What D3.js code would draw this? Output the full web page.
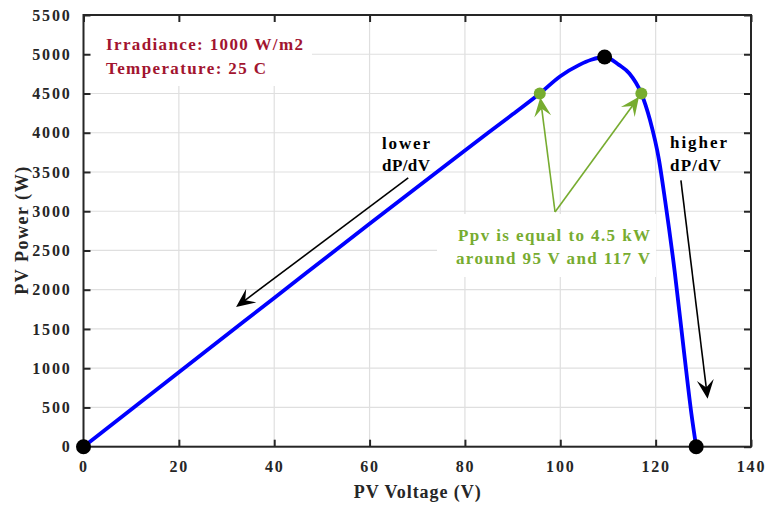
<!DOCTYPE html>
<html>
<head>
<meta charset="utf-8">
<script src="https://cdn.jsdelivr.net/npm/d3@7"></script>
<style>
  body { margin: 0; background: #fff; }
  text { font-family: "Liberation Serif", "Times New Roman", serif; font-weight: bold; }
</style>
</head>
<body>
<script>
// PV curve
var voltage = [0, 20, 40, 60, 80, 90, 95.7, 100, 104, 106.5, 109.3, 112.3, 114.5, 117.0, 118.8, 120.7, 122, 124, 126, 127.5, 128.5];
var power   = [0, 950, 1895, 2840, 3775, 4235, 4500, 4720, 4865, 4930, 4965, 4865, 4755, 4500, 4165, 3655, 3130, 2230, 1180, 420, 0];

var blackPoints = [[0, 0], [109.3, 4965], [128.5, 0]];
var greenPoints = [[95.7, 4500], [117.0, 4500]];

var xTicks = [0, 20, 40, 60, 80, 100, 120, 140];
var yTicks = d3.range(0, 5501, 500);

var width = 770, height = 506;
var svg = d3.select("body").append("svg").attr("width", width).attr("height", height);

var x = d3.scaleLinear().domain([0, 140]).range([83.5, 751]);
var y = d3.scaleLinear().domain([0, 5500]).range([446.7, 15]);

var dark = "#262626";
var green = "#77ac30";
var red = "#a2142f";

// grid
svg.append("g").selectAll("line").data(xTicks).enter().append("line")
    .attr("x1", function(d) { return x(d); }).attr("x2", function(d) { return x(d); })
    .attr("y1", y(0)).attr("y2", y(5500))
    .attr("stroke", "#dfdfdf").attr("stroke-width", 1.2);
svg.append("g").selectAll("line").data(yTicks).enter().append("line")
    .attr("y1", function(d) { return y(d); }).attr("y2", function(d) { return y(d); })
    .attr("x1", x(0)).attr("x2", x(140))
    .attr("stroke", "#dfdfdf").attr("stroke-width", 1.2);

// white boxes behind the annotations
svg.append("rect").attr("x", 85).attr("y", 17).attr("width", 227).attr("height", 69).attr("fill", "#fff");
svg.append("rect").attr("x", 437).attr("y", 214).attr("width", 219).attr("height", 63).attr("fill", "#fff");

// axes with inward ticks on all sides
var tick = 7;
var axisBottom = d3.axisBottom(x).tickValues(xTicks).tickSize(-tick).tickPadding(14).tickFormat(d3.format("d"));
var axisLeft = d3.axisLeft(y).tickValues(yTicks).tickSize(-tick).tickPadding(12).tickFormat(d3.format("d"));
var axisTop = d3.axisTop(x).tickValues(xTicks).tickSize(-tick).tickFormat("");
var axisRight = d3.axisRight(y).tickValues(yTicks).tickSize(-tick).tickFormat("");

function styleAxis(g) {
    g.select(".domain").attr("stroke", dark).attr("stroke-width", 2);
    g.selectAll(".tick line").attr("stroke", dark).attr("stroke-width", 2);
    g.selectAll(".tick text").attr("fill", dark)
        .style("font-family", "'Liberation Serif', serif").style("font-weight", "bold")
        .style("font-size", "16px").style("letter-spacing", "1.8px");
}
svg.append("g").attr("transform", "translate(0," + y(0) + ")").call(axisBottom).call(styleAxis);
svg.append("g").attr("transform", "translate(" + x(0) + ",0)").call(axisLeft).call(styleAxis);
svg.append("g").attr("transform", "translate(0," + y(5500) + ")").call(axisTop).call(styleAxis);
svg.append("g").attr("transform", "translate(" + x(140) + ",0)").call(axisRight).call(styleAxis);
svg.selectAll(".domain").attr("d", null);
svg.append("rect").attr("x", x(0)).attr("y", y(5500))
    .attr("width", x(140) - x(0)).attr("height", y(0) - y(5500))
    .attr("fill", "none").attr("stroke", dark).attr("stroke-width", 2);

// axis labels
svg.append("text").attr("x", (x(0) + x(140)) / 2).attr("y", 498)
    .attr("text-anchor", "middle").attr("fill", dark).style("font-size", "18px")
    .attr("textLength", 127).attr("lengthAdjust", "spacing")
    .text("PV Voltage (V)");
svg.append("text").attr("transform", "translate(28," + (y(0) + y(5500)) / 2 + ") rotate(-90)")
    .attr("text-anchor", "middle").attr("fill", dark).style("font-size", "18px")
    .attr("textLength", 128).attr("lengthAdjust", "spacing")
    .text("PV Power (W)");

// curve
var line = d3.line()
    .x(function(d, i) { return x(voltage[i]); })
    .y(function(d) { return y(d); })
    .curve(d3.curveMonotoneX);
svg.append("path").datum(power).attr("d", line)
    .attr("fill", "none").attr("stroke", "#0000ff").attr("stroke-width", 3.8);

// arrows
function arrow(x1, y1, x2, y2, color, len, wid, gap) {
    var ang = Math.atan2(y2 - y1, x2 - x1);
    var tx = x2 - gap * Math.cos(ang), ty = y2 - gap * Math.sin(ang);
    var g = svg.append("g");
    g.append("line").attr("x1", x1).attr("y1", y1)
        .attr("x2", tx - len * 0.5 * Math.cos(ang)).attr("y2", ty - len * 0.5 * Math.sin(ang))
        .attr("stroke", color).attr("stroke-width", 1.6);
    var head = [[0, 0], [-len, wid / 2], [-len * 0.6, 0], [-len, -wid / 2]];
    g.append("path")
        .attr("d", "M" + head.map(function(p) { return p.join(","); }).join("L") + "Z")
        .attr("transform", "translate(" + tx + "," + ty + ") rotate(" + ang * 180 / Math.PI + ")")
        .attr("fill", color);
}
arrow(x(68.1), y(3424), x(32.0), y(1780), "#000", 19, 17, 0);
arrow(x(125.3), y(3392), x(130.9), y(610), "#000", 19, 17, 0);
arrow(x(98.9), y(2990), x(greenPoints[0][0]), y(greenPoints[0][1]), green, 19, 17, 4);
arrow(x(98.9), y(2990), x(greenPoints[1][0]), y(greenPoints[1][1]), green, 19, 17, 4);

// markers
svg.append("g").selectAll("circle").data(blackPoints).enter().append("circle")
    .attr("cx", function(d) { return x(d[0]); }).attr("cy", function(d) { return y(d[1]); })
    .attr("r", 7.5).attr("fill", "#000");
svg.append("g").selectAll("circle").data(greenPoints).enter().append("circle")
    .attr("cx", function(d) { return x(d[0]); }).attr("cy", function(d) { return y(d[1]); })
    .attr("r", 6).attr("fill", green);

// annotation texts
function label(tx, ty, str, color, len, anchor) {
    svg.append("text").attr("x", tx).attr("y", ty).attr("fill", color)
        .attr("text-anchor", anchor || "start").style("font-size", "17px")
        .attr("textLength", len).attr("lengthAdjust", "spacing")
        .text(str);
}
label(106, 50, "Irradiance: 1000 W/m2", red, 197);
label(106, 74, "Temperature: 25 C", red, 160);
label(382, 149, "lower", "#000", 48);
label(382, 171, "dP/dV", "#000", 48);
label(670, 148, "higher", "#000", 57);
label(670, 171, "dP/dV", "#000", 51);
label(650, 241, "Ppv is equal to 4.5 kW", green, 192, "end");
label(650, 264, "around 95 V and 117 V", green, 194, "end");
</script>
</body>
</html>
